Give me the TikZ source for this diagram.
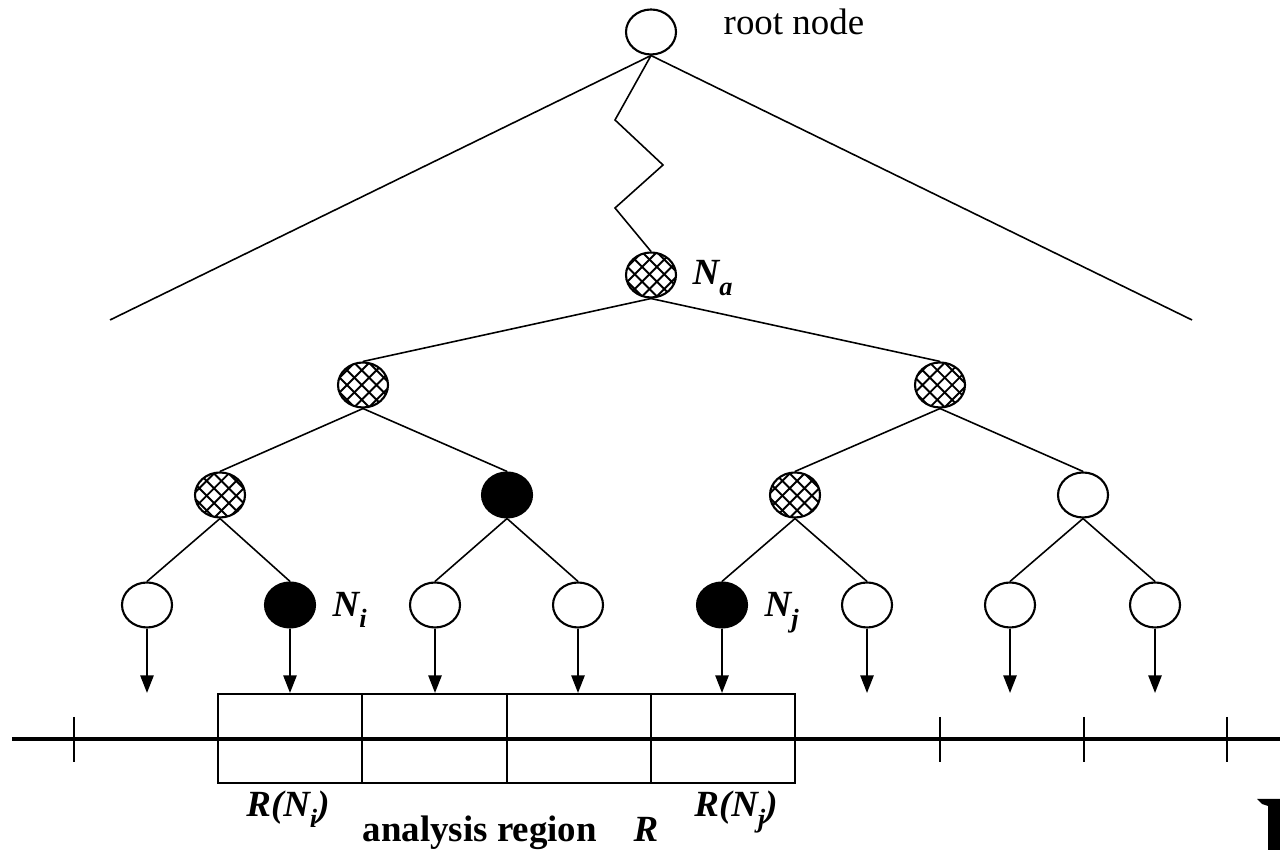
\documentclass[tikz,border=0pt]{standalone}
\usepackage{fontspec}
\setmainfont{Liberation Serif}
\usetikzlibrary{positioning, shapes.geometric, arrows.meta, patterns.meta}

\tikzdeclarepattern{name=xhatch, type=uncolored,
  bounding box={(-0.5pt,-0.5pt) and (4.7pt,4.7pt)}, tile size={(4.2pt,4.2pt)},
  code={\draw[line width=0.55pt] (0,0) -- (4.2pt,4.2pt) (0,4.2pt) -- (4.2pt,0);}}
\newcommand\lsub[1]{\raisebox{-3pt}{\fontsize{7.5}{8}\selectfont#1}}

\begin{document}
\begin{tikzpicture}[
  >={Triangle[length=5pt,width=3.8pt]},
  every node/.style={font=\fontsize{10.5}{12}\selectfont},
  vertex/.style={draw, ellipse, line width=0.6pt, minimum width=0.5cm, minimum height=0.45cm, inner sep=0pt},
  open/.style={vertex, fill=white},
  hatched/.style={vertex, pattern=xhatch, pattern color=black},
  blacknode/.style={vertex, fill=black},
  branch/.style={line width=0.45pt},
  cell/.style={draw, line width=0.6pt, minimum width=1.4425cm, minimum height=0.89cm, inner sep=0pt},
  lab/.style={inner sep=0pt, font=\fontsize{10.5}{12}\selectfont\bfseries\itshape}
]
\useasboundingbox (0,0) rectangle (12.8,8.5);

% Root and subtree root
\node[open] (root) at (6.51, 8.18) {};
\node[anchor=base west, inner sep=0pt] (rootlab) at (7.23, 8.15) {root node};
\node[hatched] (na) at (6.51, 5.75) {};
\node[lab, anchor=base west] (nalab) at (6.92, 5.65) {N\lsub{a}};

% Inner levels
\node[hatched] (b1) at (3.63, 4.65) {};
\node[hatched] (b2) at (9.40, 4.65) {};
\node[hatched] (c1) at (2.20, 3.55) {};
\node[blacknode] (c2) at (5.07, 3.55) {};
\node[hatched] (c3) at (7.95, 3.55) {};
\node[open] (c4) at (10.83, 3.55) {};

% Leaves
\node[open] (d1) at (1.47, 2.45) {};
\node[blacknode] (d2) at (2.90, 2.45) {};
\node[open] (d3) at (4.35, 2.45) {};
\node[open] (d4) at (5.78, 2.45) {};
\node[blacknode] (d5) at (7.22, 2.45) {};
\node[open] (d6) at (8.67, 2.45) {};
\node[open] (d7) at (10.10, 2.45) {};
\node[open] (d8) at (11.55, 2.45) {};
\node[lab, anchor=base west] (nilab) at (3.32, 2.33) {N\lsub{i}};
\node[lab, anchor=base west] (njlab) at (7.64, 2.33) {N\lsub{j}};

% Whole tree outline and path down to N_a
\coordinate (tl) at (1.10, 5.30);
\coordinate (tr) at (11.92, 5.30);
\draw[branch] (tl) -- (root.south) -- (tr);
\draw[branch] (root.south) -- (6.15, 7.30) -- (6.63, 6.85) -- (6.15, 6.42) -- (na.north);

% Branches
\draw[branch] (na.south) -- (b1.north);
\draw[branch] (na.south) -- (b2.north);
\draw[branch] (b1.south) -- (c1.north);
\draw[branch] (b1.south) -- (c2.north);
\draw[branch] (b2.south) -- (c3.north);
\draw[branch] (b2.south) -- (c4.north);
\draw[branch] (c1.south) -- (d1.north);
\draw[branch] (c1.south) -- (d2.north);
\draw[branch] (c2.south) -- (d3.north);
\draw[branch] (c2.south) -- (d4.north);
\draw[branch] (c3.south) -- (d5.north);
\draw[branch] (c3.south) -- (d6.north);
\draw[branch] (c4.south) -- (d7.north);
\draw[branch] (c4.south) -- (d8.north);

% Analysis region cells
\node[cell] (r1) at (2.90, 1.115) {};
\node[cell] (r2) at (4.345, 1.115) {};
\node[cell] (r3) at (5.79, 1.115) {};
\node[cell] (r4) at (7.23, 1.115) {};

% Leaf arrows
\draw[->, branch] (d1.south) -- (d1.south |- r1.north);
\draw[->, branch] (d2.south) -- (d2.south |- r1.north);
\draw[->, branch] (d3.south) -- (d3.south |- r2.north);
\draw[->, branch] (d4.south) -- (d4.south |- r3.north);
\draw[->, branch] (d5.south) -- (d5.south |- r4.north);
\draw[->, branch] (d6.south) -- (d6.south |- r4.north);
\draw[->, branch] (d7.south) -- (d7.south |- r4.north);
\draw[->, branch] (d8.south) -- (d8.south |- r4.north);

% Axis with ticks
\draw[line width=1.2pt] (0.12, 1.11) -- (12.8, 1.11);
\draw[branch] (0.74, 1.33) -- (0.74, 0.88);
\draw[branch] (9.40, 1.33) -- (9.40, 0.88);
\draw[branch] (10.84, 1.33) -- (10.84, 0.88);
\draw[branch] (12.27, 1.33) -- (12.27, 0.88);

% Labels
\node[lab, anchor=base] (rilab) at (2.88, 0.33) {R(N\lsub{i})};
\node[lab, anchor=base] (rjlab) at (7.36, 0.33) {R(N\lsub{j})};
\node[anchor=base west, inner sep=0pt, font=\fontsize{10.5}{12}\selectfont\bfseries] (reglab) at (3.62, 0.08) {analysis region\quad\textit{R}};

% Cut glyph at the corner
\fill (12.57, 0.51) -- (12.80, 0.51) -- (12.80, 0) -- (12.68, 0) -- (12.68, 0.44) -- (12.62, 0.46) -- cycle;
\end{tikzpicture}
\end{document}
